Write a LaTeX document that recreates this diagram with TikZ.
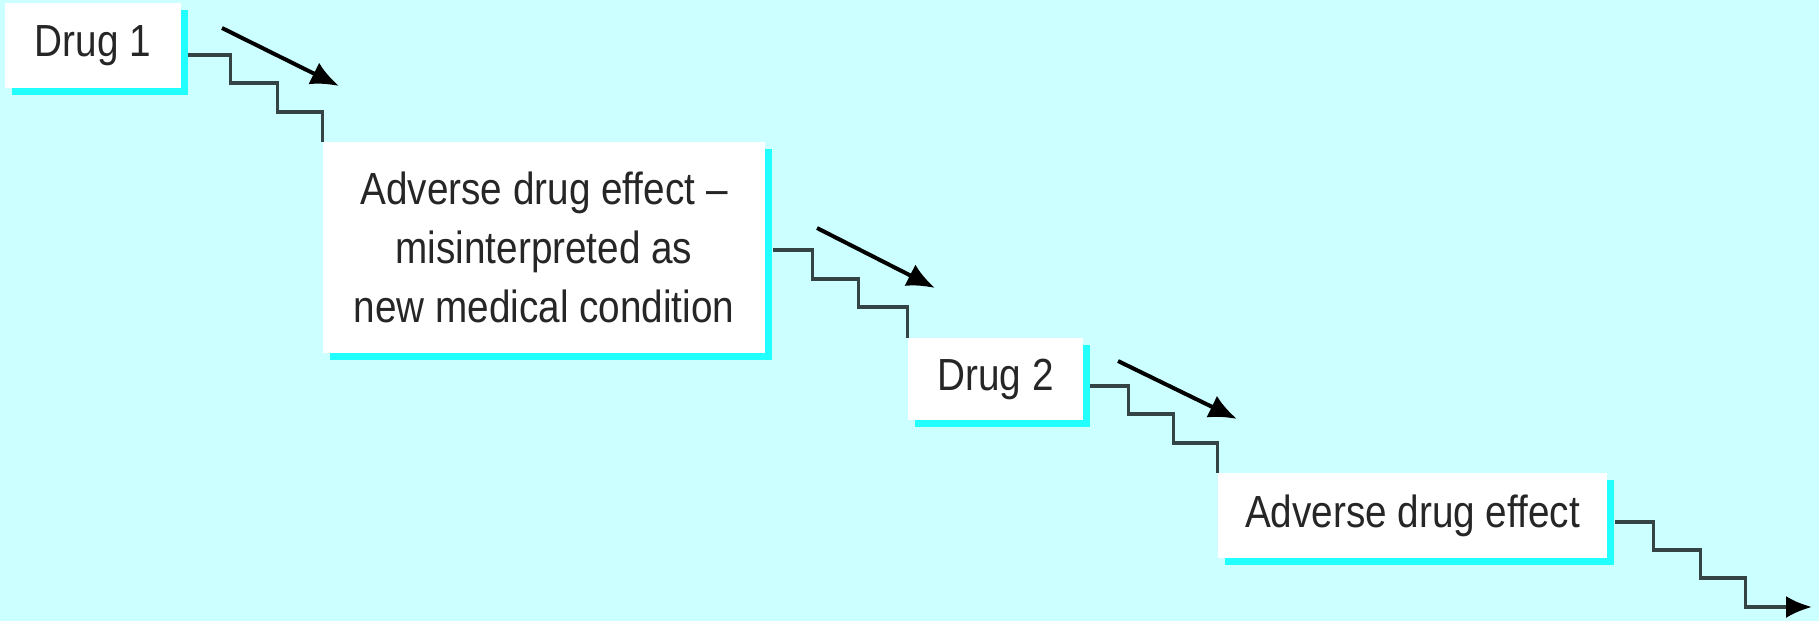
\documentclass[tikz,border=0pt]{standalone}
\usepackage{fontspec}
\setmainfont{Liberation Sans}[FakeStretch=0.86]
\usetikzlibrary{shadows,arrows.meta}
\definecolor{bgcyan}{HTML}{CCFFFF}
\definecolor{shcyan}{HTML}{22FFFF}
\definecolor{stairc}{HTML}{344444}
\definecolor{txtc}{HTML}{262626}
\tikzset{
  box/.style={fill=white, inner sep=0pt, align=center, text=txtc,
    font=\fontsize{22.5pt}{29.3pt}\selectfont,
    drop shadow={shadow xshift=3.5pt, shadow yshift=-3.5pt, fill=shcyan, opacity=1}},
  stair/.style={draw=stairc, line width=1.8pt},
  hint/.style={draw=black, line width=2pt, -{Latex[length=14pt,width=12pt]}},
}
\begin{document}
\begin{tikzpicture}[x=0.5pt,y=-0.5pt]
\useasboundingbox[fill=bgcyan] (0,0) rectangle (1819,621);
\node[box, minimum width=88pt, minimum height=42.5pt] (b1) at (93,45.5) {Drug 1};
\node[box, minimum width=221pt, minimum height=105.5pt] (b2) at (544,247.5)
  {Adverse drug effect –\\misinterpreted as\\new medical condition};
\node[box, minimum width=87.5pt, minimum height=41pt] (b3) at (995.5,379) {Drug 2};
\node[box, minimum width=194.5pt, minimum height=42.5pt] (b4) at (1412.5,515.5) {Adverse drug effect};

\draw[stair] ([xshift=3.5pt,yshift=-4.75pt]b1.east) -- ++(42,0) -- ++(0,28) -- ++(47,0) -- ++(0,29) -| (b2.north west);
\draw[stair] ([xshift=4pt,yshift=-1.25pt]b2.east) -- ++(39,0) -- ++(0,29) -- ++(46,0) -- ++(0,28) -| (b3.north west);
\draw[stair] ([xshift=3.5pt,yshift=-3.5pt]b3.east) -- ++(38,0) -- ++(0,28) -- ++(45,0) -- ++(0,29) -| (b4.north west);
\coordinate (out) at (1812,607);
\draw[stair, -{Latex[length=13pt,width=11pt,color=black]}] ([xshift=4pt,yshift=-3.25pt]b4.east) -- ++(38,0) -- ++(0,28) -- ++(47,0) -- ++(0,28) -- ++(45,0) |- (out);

\coordinate (a1s) at (222,28);  \coordinate (a1e) at (339,86);
\coordinate (a2s) at (817,228); \coordinate (a2e) at (935,288);
\coordinate (a3s) at (1118,361);\coordinate (a3e) at (1237,419);
\draw[hint] (a1s) -- (a1e);
\draw[hint] (a2s) -- (a2e);
\draw[hint] (a3s) -- (a3e);
\end{tikzpicture}
\end{document}
